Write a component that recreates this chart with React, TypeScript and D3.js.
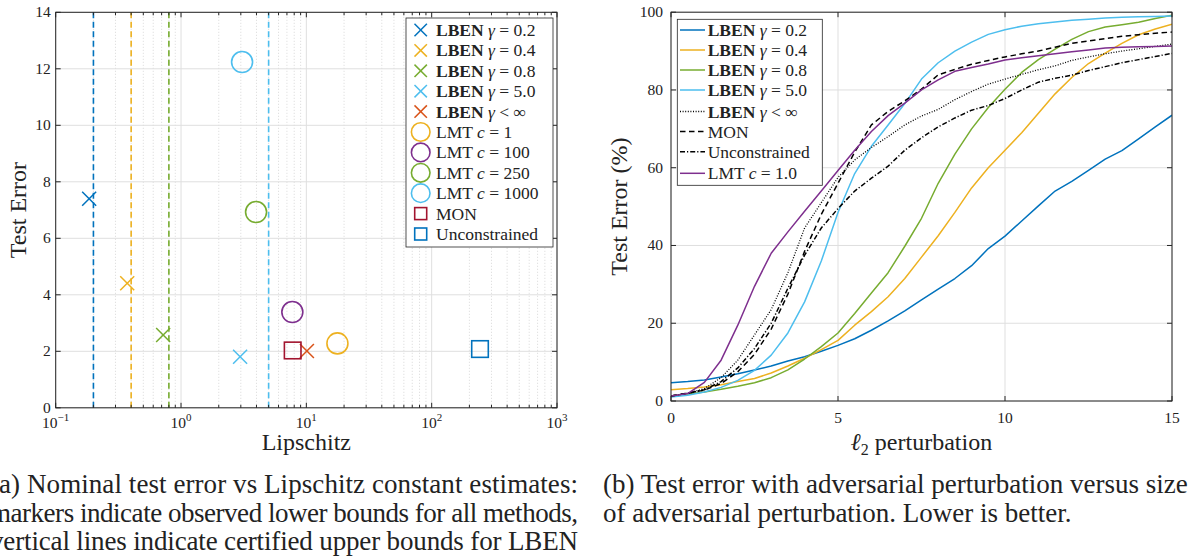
import React from 'react';
import * as d3 from 'd3';

const FONT = '"Liberation Serif", "Times New Roman", "DejaVu Serif", serif';

// ---------- Colours (MATLAB default order) ----------
const COL_BLUE = '#0072BD';
const COL_RED = '#D95319';
const COL_YELLOW = '#EDB120';
const COL_PURPLE = '#7E2F8E';
const COL_GREEN = '#77AC30';
const COL_CYAN = '#4DBEEE';
const COL_DARKRED = '#A2142F';

// ---------- Left panel data ----------
const lbenGammas = ['0.2', '0.4', '0.8', '5.0'];
const lbenUpperBounds = [0.2, 0.4, 0.8, 5.0];
const lbenLipschitz = [0.185, 0.372, 0.72, 2.96, 10.1];
const lbenError = [7.4, 4.41, 2.58, 1.81, 2.01];
const lmtC = ['1', '100', '250', '1000'];
const lmtLipschitz = [17.7, 7.73, 3.97, 3.07];
const lmtError = [2.28, 3.39, 6.93, 12.24];
const monPoint = [7.78, 2.03];
const unconstrainedPoint = [243, 2.08];
const leftYTicks = [0, 2, 4, 6, 8, 10, 12, 14];
const leftXExponents = [-1, 0, 1, 2, 3];

// ---------- Right panel data ----------
const perturbation = [0, 0.5, 1, 1.5, 2, 2.5, 3, 3.5, 4, 4.5, 5, 5.5, 6, 6.5, 7, 7.5, 8, 8.5, 9, 9.5, 10, 10.5, 11, 11.5, 12, 12.5, 13, 13.5, 14, 14.5, 15];
const errGamma02 = [4.7, 5.0, 5.4, 6.2, 7.0, 8.0, 9.0, 10.3, 11.4, 12.8, 14.3, 16.0, 18.2, 20.6, 23.2, 26.0, 28.8, 31.5, 34.8, 39.2, 42.4, 46.3, 50.2, 54.0, 56.5, 59.3, 62.2, 64.4, 67.4, 70.5, 73.5];
const errGamma04 = [2.9, 3.2, 3.6, 4.2, 5.0, 5.8, 7.2, 9.0, 11.0, 13.2, 15.6, 19.5, 23.0, 26.8, 31.5, 37.0, 42.5, 48.5, 54.8, 60.0, 64.5, 69.0, 74.0, 79.0, 83.2, 86.8, 89.5, 92.0, 94.2, 95.7, 96.9];
const errGamma08 = [1.3, 1.8, 2.3, 3.0, 3.8, 4.7, 6.0, 8.0, 10.8, 14.0, 17.5, 22.5, 27.8, 33.0, 39.8, 47.0, 56.0, 63.5, 70.0, 75.5, 80.2, 84.5, 87.8, 90.5, 93.0, 95.0, 96.2, 96.8, 97.4, 98.4, 99.2];
const errGamma50 = [1.0, 1.5, 2.3, 3.5, 5.3, 7.9, 11.8, 17.5, 25.5, 36.0, 48.5, 58.5, 65.5, 71.0, 76.5, 82.8, 87.0, 90.0, 92.3, 94.3, 95.5, 96.4, 97.0, 97.5, 97.9, 98.2, 98.5, 98.7, 98.8, 98.9, 99.0];
const errGammaInf = [1.3, 2.0, 3.2, 6.0, 10.5, 17.0, 23.5, 33.0, 44.5, 51.0, 57.5, 62.0, 65.2, 68.0, 71.0, 73.3, 75.0, 77.5, 79.6, 81.5, 82.8, 84.0, 85.2, 86.2, 87.6, 88.5, 89.3, 90.0, 90.6, 91.2, 91.8];
const errMON = [1.3, 2.0, 2.8, 4.5, 7.5, 12.0, 18.5, 27.5, 38.5, 48.0, 56.0, 64.0, 71.0, 74.5, 77.2, 80.2, 83.9, 85.3, 86.6, 87.6, 88.5, 89.3, 90.0, 91.0, 92.0, 92.6, 93.2, 93.8, 94.2, 94.6, 94.9];
const errUnconstrained = [1.3, 2.0, 2.9, 5.0, 8.5, 13.5, 20.0, 29.0, 37.5, 44.5, 49.5, 54.0, 57.3, 60.4, 64.5, 67.7, 70.5, 72.8, 74.8, 76.0, 77.8, 80.0, 82.0, 83.0, 83.8, 85.0, 86.0, 87.0, 87.8, 88.6, 89.4];
const errLMT = [1.3, 1.9, 4.8, 10.5, 19.5, 29.5, 38.0, 43.5, 48.8, 54.0, 59.3, 64.5, 69.3, 73.4, 76.6, 80.0, 82.6, 84.8, 85.8, 86.7, 87.7, 88.3, 88.8, 89.3, 89.8, 90.3, 90.8, 91.0, 91.1, 91.2, 91.3];
const rightXTicks = [0, 5, 10, 15];
const rightYTicks = [0, 20, 40, 60, 80, 100];

const AXIS = '#262626';
const GRID = '#dfdfdf';

type Series = { label: React.ReactNode; values: number[]; color: string; dash?: string; width: number };

const gammaLabel = (g: string) => (
  <>
    <tspan fontWeight="bold">LBEN</tspan>{' '}
    <tspan fontStyle="italic">γ</tspan>
    {' = ' + g}
  </>
);
const gammaInfLabel = (
  <>
    <tspan fontWeight="bold">LBEN</tspan>{' '}
    <tspan fontStyle="italic">γ</tspan>
    {' < ∞'}
  </>
);

const Cross = ({ x, y, s, color, w = 1.5 }: { x: number; y: number; s: number; color: string; w?: number }) => (
  <g stroke={color} strokeWidth={w}>
    <line x1={x - s} y1={y - s} x2={x + s} y2={y + s} />
    <line x1={x - s} y1={y + s} x2={x + s} y2={y - s} />
  </g>
);

function LeftPanel() {
  const x = d3.scaleLog().domain([0.1, 1000]).range([55.7, 557]);
  const y = d3.scaleLinear().domain([0, 14]).range([407.8, 12.3]);
  const [x0, x1] = x.range();
  const [y0, y1] = y.range();
  const minor: number[] = [];
  leftXExponents.slice(0, -1).forEach((e) => {
    for (let m = 2; m <= 9; m++) minor.push(m * Math.pow(10, e));
  });
  const markerColors = [COL_BLUE, COL_YELLOW, COL_GREEN, COL_CYAN, COL_RED];
  const lmtColors = [COL_YELLOW, COL_PURPLE, COL_GREEN, COL_CYAN];

  const legendRows: { kind: string; color: string; label: React.ReactNode }[] = [
    ...lbenGammas.map((g, i) => ({ kind: 'x', color: markerColors[i], label: gammaLabel(g) })),
    { kind: 'x', color: COL_RED, label: gammaInfLabel },
    ...lmtC.map((c, i) => ({
      kind: 'o',
      color: lmtColors[i],
      label: (
        <>
          {'LMT '}
          <tspan fontStyle="italic">c</tspan>
          {' = ' + c}
        </>
      ),
    })),
    { kind: 's', color: COL_DARKRED, label: 'MON' },
    { kind: 's', color: COL_BLUE, label: 'Unconstrained' },
  ];

  return (
    <g>
      {/* minor grid */}
      {minor.map((v, i) => (
        <line key={'mg' + i} x1={x(v)} x2={x(v)} y1={y0} y2={y1} stroke="#cfcfcf" strokeWidth={0.8} strokeDasharray="1 2" />
      ))}
      {/* major grid */}
      {leftXExponents.map((e) => (
        <line key={'gx' + e} x1={x(Math.pow(10, e))} x2={x(Math.pow(10, e))} y1={y0} y2={y1} stroke={GRID} strokeWidth={1} />
      ))}
      {leftYTicks.map((t) => (
        <line key={'gy' + t} x1={x0} x2={x1} y1={y(t)} y2={y(t)} stroke={GRID} strokeWidth={1} />
      ))}
      {/* certified upper bounds */}
      {lbenUpperBounds.map((b, i) => (
        <line key={'ub' + i} x1={x(b)} x2={x(b)} y1={y0} y2={y1} stroke={markerColors[i]} strokeWidth={1.6} strokeDasharray="6 3.5" />
      ))}
      {/* markers */}
      {lbenLipschitz.map((l, i) => (
        <Cross key={'lb' + i} x={x(l)} y={y(lbenError[i])} s={7} color={markerColors[i]} />
      ))}
      {lmtLipschitz.map((l, i) => (
        <circle key={'lmt' + i} cx={x(l)} cy={y(lmtError[i])} r={10.5} fill="none" stroke={lmtColors[i]} strokeWidth={1.6} />
      ))}
      <rect x={x(monPoint[0]) - 8.3} y={y(monPoint[1]) - 8.3} width={16.6} height={16.6} fill="none" stroke={COL_DARKRED} strokeWidth={1.6} />
      <rect x={x(unconstrainedPoint[0]) - 8.3} y={y(unconstrainedPoint[1]) - 8.3} width={16.6} height={16.6} fill="none" stroke={COL_BLUE} strokeWidth={1.6} />

      {/* axes box */}
      <rect x={x0} y={y1} width={x1 - x0} height={y0 - y1} fill="none" stroke={AXIS} strokeWidth={1} />
      {leftXExponents.map((e) => {
        const px = x(Math.pow(10, e));
        return (
          <g key={'tx' + e}>
            <line x1={px} x2={px} y1={y0} y2={y0 - 5} stroke={AXIS} />
            <line x1={px} x2={px} y1={y1} y2={y1 + 5} stroke={AXIS} />
            <text x={px} y={428} textAnchor="middle" fontFamily={FONT} fontSize={15.5} fill="#222">
              10<tspan dy={-7} fontSize={11}>{e < 0 ? '−' + Math.abs(e) : String(e)}</tspan>
            </text>
          </g>
        );
      })}
      {minor.map((v, i) => (
        <g key={'mt' + i}>
          <line x1={x(v)} x2={x(v)} y1={y0} y2={y0 - 3} stroke={AXIS} />
          <line x1={x(v)} x2={x(v)} y1={y1} y2={y1 + 3} stroke={AXIS} />
        </g>
      ))}
      {leftYTicks.map((t) => (
        <g key={'ty' + t}>
          <line x1={x0} x2={x0 + 5} y1={y(t)} y2={y(t)} stroke={AXIS} />
          <line x1={x1} x2={x1 - 5} y1={y(t)} y2={y(t)} stroke={AXIS} />
          <text x={x0 - 5} y={y(t) + 5} textAnchor="end" fontFamily={FONT} fontSize={15.5} fill="#222">
            {t}
          </text>
        </g>
      ))}
      <text x={(x0 + x1) / 2} y={450} textAnchor="middle" fontFamily={FONT} fontSize={24} fill="#222">
        Lipschitz
      </text>
      <text transform={`translate(26,${(y0 + y1) / 2}) rotate(-90)`} textAnchor="middle" fontFamily={FONT} fontSize={24} fill="#222">
        Test Error
      </text>

      {/* legend */}
      <rect x={406} y={18} width={147} height={229} fill="#fff" stroke={AXIS} strokeWidth={0.8} />
      {legendRows.map((r, i) => {
        const cy = 30 + i * 20.4;
        const mx = 420.7;
        return (
          <g key={'lg' + i}>
            {r.kind === 'x' && <Cross x={mx} y={cy} s={6.2} color={r.color} />}
            {r.kind === 'o' && <circle cx={mx} cy={cy} r={9.3} fill="none" stroke={r.color} strokeWidth={1.6} />}
            {r.kind === 's' && <rect x={mx - 6} y={cy - 6} width={12} height={12} fill="none" stroke={r.color} strokeWidth={1.6} />}
            <text x={436} y={cy + 6} fontFamily={FONT} fontSize={17.5} fill="#222">
              {r.label}
            </text>
          </g>
        );
      })}
    </g>
  );
}

function RightPanel() {
  const x = d3.scaleLinear().domain([0, 15]).range([671, 1172]);
  const y = d3.scaleLinear().domain([0, 100]).range([401, 12.2]);
  const [x0, x1] = x.range();
  const [y0, y1] = y.range();
  const line = d3
    .line<number>()
    .x((_, i) => x(perturbation[i]))
    .y((d) => y(d));

  const series: Series[] = [
    { label: gammaLabel('0.2'), values: errGamma02, color: COL_BLUE, width: 1.5 },
    { label: gammaLabel('0.4'), values: errGamma04, color: COL_YELLOW, width: 1.5 },
    { label: gammaLabel('0.8'), values: errGamma08, color: COL_GREEN, width: 1.5 },
    { label: gammaLabel('5.0'), values: errGamma50, color: COL_CYAN, width: 1.5 },
    { label: gammaInfLabel, values: errGammaInf, color: '#000', dash: '1 1.6', width: 1.3 },
    { label: 'MON', values: errMON, color: '#000', dash: '5.5 3.5', width: 1.5 },
    { label: 'Unconstrained', values: errUnconstrained, color: '#000', dash: '5 2 1.2 2', width: 1.5 },
    {
      label: (
        <>
          {'LMT '}
          <tspan fontStyle="italic">c</tspan>
          {' = 1.0'}
        </>
      ),
      values: errLMT,
      color: COL_PURPLE,
      width: 1.5,
    },
  ];
  const drawOrder = [0, 1, 2, 3, 4, 5, 6, 7];
  const legendY = [30, 50, 70, 90, 111.5, 131.5, 151.7, 173.3];

  return (
    <g>
      {rightXTicks.map((t) => (
        <line key={'gx' + t} x1={x(t)} x2={x(t)} y1={y0} y2={y1} stroke={GRID} strokeWidth={1} />
      ))}
      {rightYTicks.map((t) => (
        <line key={'gy' + t} x1={x0} x2={x1} y1={y(t)} y2={y(t)} stroke={GRID} strokeWidth={1} />
      ))}
      <defs>
        <clipPath id="rclip">
          <rect x={x0} y={y1} width={x1 - x0} height={y0 - y1} />
        </clipPath>
      </defs>
      <g clipPath="url(#rclip)">
        {drawOrder.map((i) => {
          const s = series[i];
          return (
            <path key={'s' + i} d={line(s.values) || ''} fill="none" stroke={s.color} strokeWidth={s.width} strokeDasharray={s.dash} strokeLinejoin="round" />
          );
        })}
      </g>
      <rect x={x0} y={y1} width={x1 - x0} height={y0 - y1} fill="none" stroke={AXIS} strokeWidth={1} />
      {rightXTicks.map((t) => (
        <g key={'tx' + t}>
          <line x1={x(t)} x2={x(t)} y1={y0} y2={y0 - 5} stroke={AXIS} />
          <line x1={x(t)} x2={x(t)} y1={y1} y2={y1 + 5} stroke={AXIS} />
          <text x={x(t)} y={423} textAnchor="middle" fontFamily={FONT} fontSize={15.5} fill="#222">
            {t}
          </text>
        </g>
      ))}
      {rightYTicks.map((t) => (
        <g key={'ty' + t}>
          <line x1={x0} x2={x0 + 5} y1={y(t)} y2={y(t)} stroke={AXIS} />
          <line x1={x1} x2={x1 - 5} y1={y(t)} y2={y(t)} stroke={AXIS} />
          <text x={x0 - 8} y={y(t) + 5} textAnchor="end" fontFamily={FONT} fontSize={15.5} fill="#222">
            {t}
          </text>
        </g>
      ))}
      <text x={(x0 + x1) / 2} y={450} textAnchor="middle" fontFamily={FONT} fontSize={24} fill="#222">
        <tspan fontStyle="italic">ℓ</tspan>
        <tspan fontSize={16} dy={5}>2</tspan>
        <tspan dy={-5}>{' perturbation'}</tspan>
      </text>
      <text transform={`translate(627,${(y0 + y1) / 2}) rotate(-90)`} textAnchor="middle" fontFamily={FONT} fontSize={24} fill="#222">
        Test Error (%)
      </text>

      {/* legend */}
      <rect x={677.3} y={19.3} width={145} height={166} fill="#fff" stroke={AXIS} strokeWidth={0.8} />
      {series.map((s, i) => {
        const cy = legendY[i];
        return (
          <g key={'lg' + i}>
            <line x1={680} x2={705} y1={cy} y2={cy} stroke={s.color} strokeWidth={s.width} strokeDasharray={s.dash} />
            <text x={707.7} y={cy + 6} fontFamily={FONT} fontSize={17.5} fill="#222">
              {s.label}
            </text>
          </g>
        );
      })}
    </g>
  );
}

const captionA = [
  '(a) Nominal test error vs Lipschitz constant estimates:',
  'markers indicate observed lower bounds for all methods,',
  'vertical lines indicate certified upper bounds for LBEN',
];
const captionB = ['(b) Test error with adversarial perturbation versus size', 'of adversarial perturbation. Lower is better.'];
const captionBaselines = [493, 522, 550];

export default function App() {
  return (
    <svg width={1188} height={556} style={{ position: 'absolute', left: 0, top: 0, background: '#fff' }}>
      <rect width={1188} height={556} fill="#fff" />
      <LeftPanel />
      <RightPanel />
      {captionA.map((t, i) => (
        <text key={'ca' + i} x={-10} y={captionBaselines[i]} fontFamily={FONT} fontSize={27} fill="#222" textLength={588} lengthAdjust="spacing">
          {t}
        </text>
      ))}
      {captionB.map((t, i) => (
        <text key={'cb' + i} x={603} y={captionBaselines[i]} fontFamily={FONT} fontSize={27} fill="#222">
          {t}
        </text>
      ))}
    </svg>
  );
}
